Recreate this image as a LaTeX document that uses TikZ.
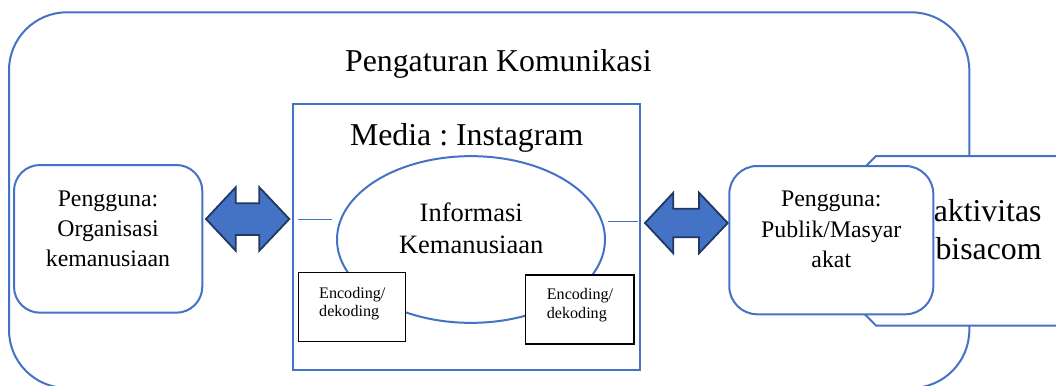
\documentclass[tikz,border=0pt]{standalone}
\usepackage{fontspec}
\setmainfont{Liberation Serif}
\usetikzlibrary{shapes.geometric}
\definecolor{accent}{HTML}{4472C4}
\definecolor{navy}{HTML}{1F3864}
\frenchspacing
\tikzset{
  blueline/.style={draw=accent, line width=2pt},
  boxshape/.style={rectangle, inner sep=0pt, outer sep=0pt, fill=white},
  outerbox/.style={boxshape, blueline, rounded corners=58pt, minimum width=960.3pt, minimum height=375.7pt},
  mediabox/.style={boxshape, blueline, minimum width=346.7pt, minimum height=265.7pt},
  userbox/.style={boxshape, blueline, rounded corners=26pt},
  infoell/.style={ellipse, inner sep=0pt, outer sep=0pt, draw=accent, line width=2pt, minimum width=268pt, minimum height=166.7pt},
  encbox/.style={boxshape, draw=black, line width=1.2pt},
  thinline/.style={draw=accent, line width=1pt},
  blockarrow/.style={fill=accent, draw=navy, line width=1.8pt, line join=miter},
  bigtext/.style={font=\fontsize{31.8}{38}\selectfont\frenchspacing, inner sep=0pt},
  infotext/.style={font=\fontsize{26.5}{32.3}\selectfont, inner sep=0pt, align=center},
  usertext/.style={font=\fontsize{23.8}{30.3}\selectfont, inner sep=0pt, align=center},
  enctext/.style={font=\fontsize{16.1}{18.4}\selectfont, inner sep=0pt, align=left},
}
\begin{document}
\begin{tikzpicture}[x=1pt,y=-1pt]
\useasboundingbox (0,0) rectangle (1056,385);
\clip (0,0) rectangle (1056,385);
% outer frame
\node[outerbox] (outer) at (489.15,200.15) {};
% right back shape (partly hidden)
\draw[blueline, fill=white] (876,156) -- (1070,156) -- (1070,325.5) -- (876,325.5) -- (791,240.75) -- cycle;
\node[bigtext, anchor=base east] (akt) at (1041.7,221) {aktivitas};
\node[bigtext, anchor=base east] (bisa) at (1041.7,259) {bisacom};
% title
\node[bigtext, anchor=base] (title) at (498.35,71.7) {Pengaturan Komunikasi};
% media box
\node[mediabox] (media) at (466.65,237.15) {};
\node[bigtext, anchor=base] (mediatitle) at (466.65,145) {Media : Instagram};
% ellipse
\node[infoell] (info) at (471,239.5) {};
\node[infotext, anchor=base] (infotxt) at (471.2,253.3) {Informasi\\Kemanusiaan};
% small lines
\coordinate (la) at (298,219.3);
\coordinate (lb) at (332,219.3);
\coordinate (ra) at (608,221);
\coordinate (rb) at (638,221);
\draw[thinline] (la) -- (lb);
\draw[thinline] (ra) -- (rb);
% encoding boxes
\node[encbox, minimum width=107.4pt, minimum height=69.4pt] (encL) at (352,307) {};
\node[encbox, minimum width=108.3pt, minimum height=69pt] (encR) at (579.85,309.5) {};
\node[enctext, anchor=base west] (encLt) at (319,316.7) {Encoding/\\dekoding};
\node[enctext, anchor=base west] (encRt) at (546.7,318) {Encoding/\\dekoding};
% user boxes
\node[userbox, minimum width=188.3pt, minimum height=147.7pt] (userL) at (108.15,238.85) {};
\node[usertext, anchor=base] (userLt) at (108,266.7) {Pengguna:\\Organisasi\\kemanusiaan};
\node[userbox, minimum width=204pt, minimum height=148.3pt, rounded corners=28pt] (userR) at (831.3,240.15) {};
\node[usertext, anchor=base] (userRt) at (831.3,267.3) {Pengguna:\\Publik/Masyar\\akat};
% block arrows
\draw[blockarrow] (206,219) -- (235.7,187.3) -- (235.7,203.3) -- (259.3,203.3) -- (259.3,187.3) -- (289.3,219)
  -- (259.3,250.7) -- (259.3,235) -- (235.7,235) -- (235.7,250.7) -- cycle;
\draw[blockarrow] (645,223) -- (673.3,192.7) -- (673.3,208.8) -- (699,208.8) -- (699,192.7) -- (727.7,223)
  -- (699,253.3) -- (699,237.2) -- (673.3,237.2) -- (673.3,253.3) -- cycle;
\end{tikzpicture}
\end{document}
